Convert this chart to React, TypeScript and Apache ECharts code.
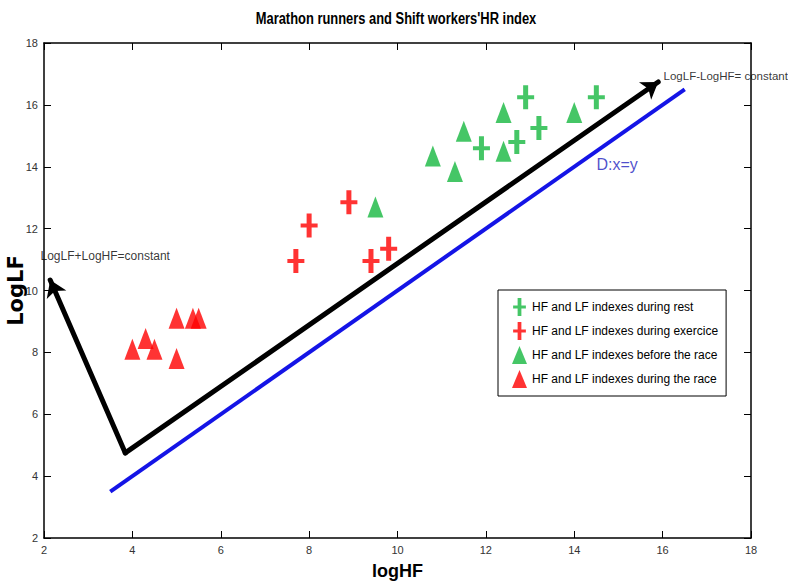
import React, { useEffect, useRef } from "react";
import * as echarts from "echarts";

// HF / LF index pairs (logHF, LogLF)
const restPoints = [[11.9, 14.6], [12.9, 16.25], [12.7, 14.8], [13.2, 15.25], [14.5, 16.25]];
const exercisePoints = [[7.7, 10.95], [8.0, 12.1], [8.9, 12.85], [9.4, 10.95], [9.8, 11.35]];
const beforeRacePoints = [[9.5, 12.7], [10.8, 14.35], [11.3, 13.85], [11.5, 15.15], [12.4, 15.75], [12.4, 14.5], [14.0, 15.75]];
const duringRacePoints = [[4.0, 8.1], [4.3, 8.45], [4.5, 8.1], [5.0, 9.1], [5.0, 7.8], [5.37, 9.1], [5.5, 9.1]];

const seriesNames = [
  "HF and LF indexes during rest",
  "HF and LF indexes during exercice",
  "HF and LF indexes before the race",
  "HF and LF indexes during the race",
];

// Reference line D: x = y
const identityLine = [[3.5, 3.5], [16.5, 16.5]];
// Direction arrows
const arrowOrigin = [3.84, 4.75];
const sumArrowTip = [2.14, 10.34];
const diffArrowTip = [15.9, 16.74];

// Text annotations anchored in data space
const sumLabelAt = [2.0, 11.1];
const diffLabelAt = [16.01, 16.93];
const identityLabelAt = [14.49, 14.06];

const axisMin = 2;
const axisMax = 18;
const axisStep = 2;

const GREEN = "#16b840";
const RED = "#ff0000";
const BLUE = "#1414e6";
const SANS = "'Liberation Sans', Arial, sans-serif";
const CROSS = "path://M6,0H11V10H17V14H11V24H6V14H0V10H6Z";

export default function App() {
  const ref = useRef<HTMLDivElement>(null);

  useEffect(() => {
    if (!ref.current) return;
    const chart = echarts.init(ref.current, null, { renderer: "svg" });

    const baseAxis = {
      type: "value" as const,
      min: axisMin,
      max: axisMax,
      interval: axisStep,
      splitLine: { show: false },
      axisLine: { show: true, onZero: false, lineStyle: { color: "#000", width: 1.5 } },
      axisTick: { show: true, inside: true, length: 7, lineStyle: { color: "#000", width: 1 } },
    };
    const tickLabel = { color: "#333", fontFamily: SANS, fontSize: 11 };

    chart.setOption({
      animation: false,
      backgroundColor: "#fff",
      graphic: [
        {
          type: "text",
          x: 396,
          y: 18,
          scaleX: 0.76,
          style: {
            text: "Marathon runners and Shift workers'HR index",
            font: "bold 17px 'Liberation Sans', Arial, sans-serif",
            fill: "#000",
            textAlign: "center",
            textVerticalAlign: "middle",
          },
        },
      ],
      grid: { left: 44, right: 37, top: 43, bottom: 50, outerBoundsMode: "none", containLabel: false },
      legend: {
        data: [
          { name: seriesNames[0], icon: CROSS },
          { name: seriesNames[1], icon: CROSS },
          { name: seriesNames[2], icon: "triangle" },
          { name: seriesNames[3], icon: "triangle" },
        ],
        orient: "vertical",
        left: 498,
        top: 290,
        itemWidth: 15,
        itemHeight: 18,
        itemGap: 6,
        padding: [8, 8, 8, 14],
        borderColor: "#000",
        borderWidth: 1,
        backgroundColor: "#fff",
        selectedMode: false,
        textStyle: { fontFamily: SANS, fontSize: 12, color: "#000" },
      },
      xAxis: [
        {
          ...baseAxis,
          position: "bottom",
          name: "logHF",
          nameLocation: "middle",
          nameGap: 24,
          nameMoveOverlap: false,
          nameTextStyle: { fontFamily: SANS, fontSize: 18, fontWeight: "bold", color: "#000" },
          axisLabel: { ...tickLabel, margin: 6 },
        },
        { ...baseAxis, position: "top", axisLabel: { show: false } },
      ],
      yAxis: [
        {
          ...baseAxis,
          position: "left",
          name: "LogLF",
          nameLocation: "middle",
          nameRotate: 90,
          nameGap: 18,
          nameMoveOverlap: false,
          nameTextStyle: { fontFamily: "'DejaVu Sans', sans-serif", fontSize: 21, fontWeight: "bold", color: "#000" },
          axisLabel: { ...tickLabel, margin: 6 },
        },
        { ...baseAxis, position: "right", axisLabel: { show: false } },
      ],
      series: [
        {
          name: "D",
          type: "line",
          data: identityLine,
          symbol: "none",
          lineStyle: { color: BLUE, width: 4 },
          z: 2,
          silent: true,
        },
        {
          name: "arrows",
          type: "lines",
          coordinateSystem: "cartesian2d",
          symbol: ["none", "arrow"],
          symbolSize: 16,
          lineStyle: { color: "#000", width: 5, opacity: 1, curveness: 0, cap: "round" },
          data: [
            { coords: [arrowOrigin, diffArrowTip] },
            { coords: [arrowOrigin, sumArrowTip] },
          ],
          z: 3,
          silent: true,
        },
        {
          name: seriesNames[0],
          type: "scatter",
          data: restPoints,
          symbol: CROSS,
          symbolSize: [17, 24],
          itemStyle: { color: GREEN },
          z: 4,
        },
        {
          name: seriesNames[1],
          type: "scatter",
          data: exercisePoints,
          symbol: CROSS,
          symbolSize: [17, 24],
          itemStyle: { color: RED },
          z: 4,
        },
        {
          name: seriesNames[2],
          type: "scatter",
          data: beforeRacePoints,
          symbol: "triangle",
          symbolSize: [16, 21],
          itemStyle: { color: GREEN },
          z: 4,
        },
        {
          name: seriesNames[3],
          type: "scatter",
          data: duringRacePoints,
          symbol: "triangle",
          symbolSize: [16, 21],
          itemStyle: { color: RED },
          z: 4,
        },
        {
          name: "annotations",
          type: "scatter",
          clip: false,
          silent: true,
          symbol: "circle",
          symbolSize: 1,
          itemStyle: { color: "rgba(0,0,0,0)" },
          z: 5,
          label: {
            show: true,
            position: "right",
            distance: 0,
            fontFamily: SANS,
            fontSize: 12,
            color: "#000",
          },
          data: [
            { value: sumLabelAt, label: { formatter: "LogLF+LogHF=constant", offset: [-4, 0] } },
            { value: diffLabelAt, label: { formatter: "LogLF-LogHF= constant", fontSize: 11.5 } },
            { value: identityLabelAt, label: { formatter: "D:x=y", fontSize: 16, color: "#1e1ebe" } },
          ],
        },
      ],
    });

    return () => chart.dispose();
  }, []);

  return <div ref={ref} style={{ width: 788, height: 588, position: "absolute", left: 0, top: 0 }} />;
}
